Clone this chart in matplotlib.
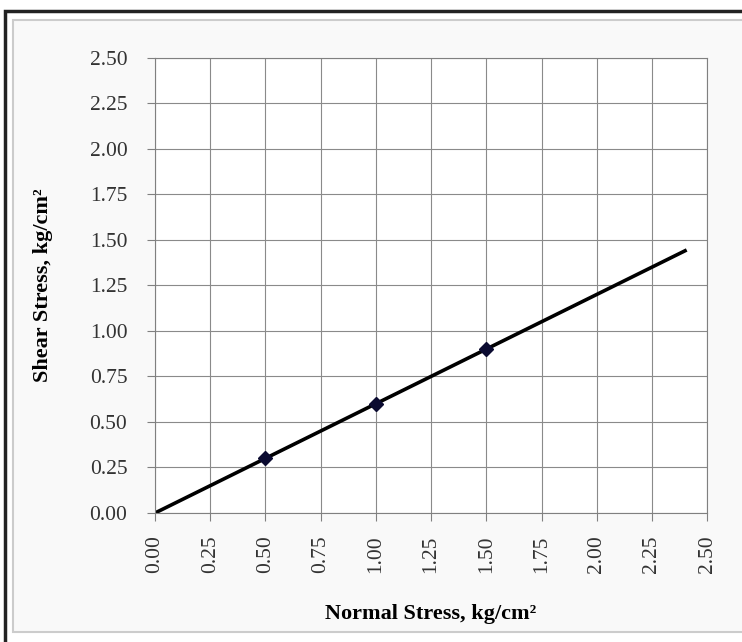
import numpy as np
import matplotlib.pyplot as plt
from matplotlib.patches import Rectangle

plt.rcParams['font.family'] = ['Liberation Serif', 'DejaVu Serif']

normal = [0.5, 1.0, 1.5]
shear = [0.3, 0.6, 0.9]
fit_x = [0.0, 2.4]
fit_y = [0.0, 1.44]
ticks = [0.0, 0.25, 0.5, 0.75, 1.0, 1.25, 1.5, 1.75, 2.0, 2.25, 2.5]

fig = plt.figure(figsize=(7.42, 6.42), dpi=100)
fig.patch.set_facecolor('white')
# chart frame, kept behind the axes
fig.patches.append(Rectangle((0.007, -0.01), 1.0, 0.993, transform=fig.transFigure,
                             fill=False, edgecolor='#222222', lw=2.5, zorder=-10))
fig.patches.append(Rectangle((0.017, 0.016), 0.99, 0.953, transform=fig.transFigure,
                             facecolor='#f9f9f9', edgecolor='#cccccc', lw=1.5, zorder=-11))

ax = fig.add_axes([0.209, 0.201, 0.744, 0.709])
ax.set_facecolor('white')
ax.plot(fit_x, fit_y, color='black', lw=2.6)
ax.plot(normal, shear, 'D', color='#0a0a30', ms=7)
ax.set_xlim(0, 2.5)
ax.set_ylim(0, 2.5)
ax.set_xticks(ticks)
ax.set_yticks(ticks)
ax.set_xticklabels(['%.2f' % t for t in ticks], rotation=90, fontsize=15.5)
ax.set_yticklabels(['%.2f' % t for t in ticks], fontsize=15.5)
ax.grid(True, color='#8a8a8a', lw=0.8)
ax.set_axisbelow(True)
for s in ax.spines.values():
    s.set_color('#808080')
ax.tick_params(colors='#333333', direction='out', length=6, color='#808080')
ax.tick_params(axis='y', pad=14)
ax.tick_params(axis='x', pad=10)
ax.set_xlabel('Normal Stress, kg/cm²', fontsize=16, fontweight='bold', labelpad=22)
ax.set_ylabel('Shear Stress, kg/cm²', fontsize=16, fontweight='bold', labelpad=26)

fig.savefig('out.png', dpi=100)
